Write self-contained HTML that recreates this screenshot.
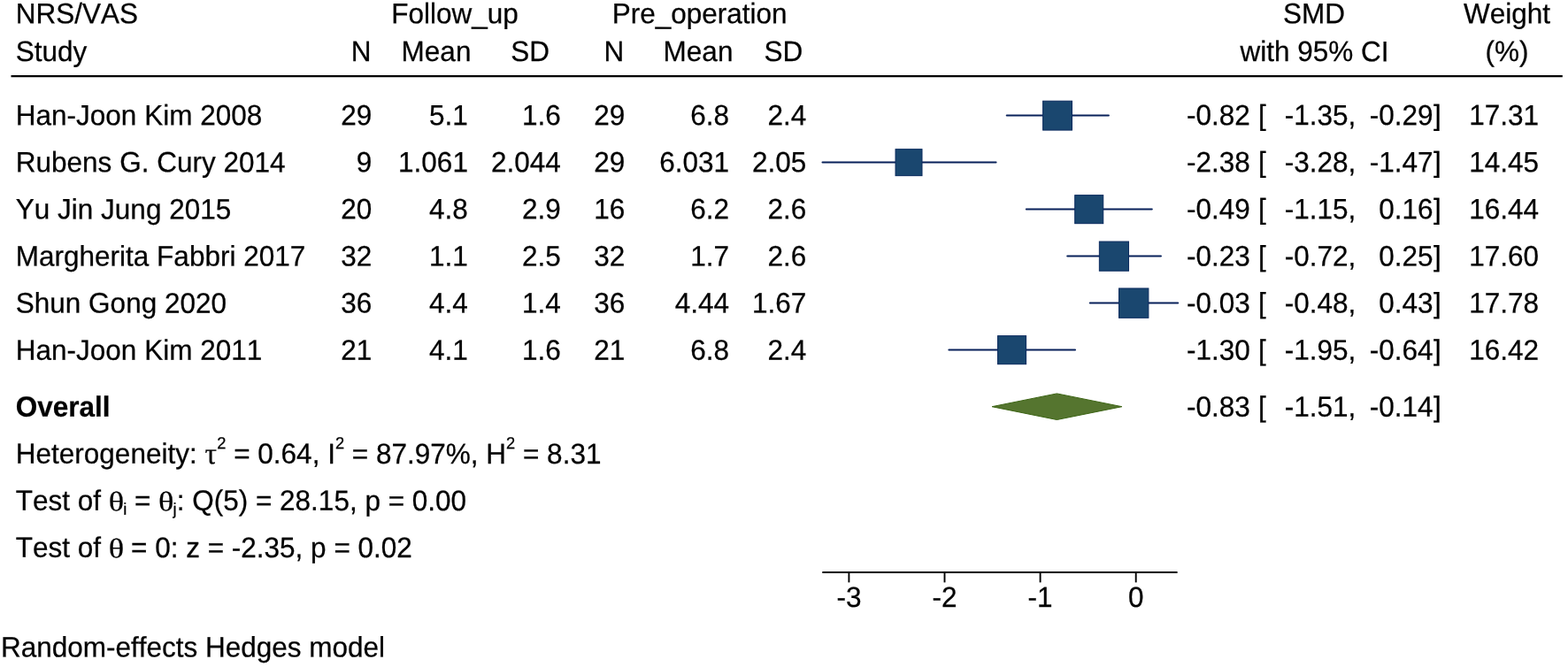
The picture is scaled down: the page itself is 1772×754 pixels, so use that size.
<!DOCTYPE html>
<html lang="en">
<head>
<meta charset="utf-8">
<title>NRS/VAS forest plot</title>
<style>
html,body{margin:0;padding:0;background:#fff;}
body{width:1772px;height:754px;overflow:hidden;}
svg{display:block;}
svg text{font-family:"Liberation Sans", sans-serif;font-size:31.5px;fill:#000;stroke:#000;stroke-width:0.25px;white-space:pre;font-kerning:none;text-rendering:geometricPrecision;}
</style>
</head>
<body>
<svg width="1772" height="754" viewBox="0 0 1772 754">
<rect x="0" y="0" width="1772" height="754" fill="#ffffff"/>
<text transform="matrix(1 0.0005 0 1.025 17.8 26.2)">NRS/VAS</text>
<text transform="matrix(1 0.0005 0 1.025 17.8 69.1)">Study</text>
<text transform="matrix(1 0.0005 0 1.025 514 26.2)" text-anchor="middle">Follow_up</text>
<text transform="matrix(1 0.0005 0 1.025 790.6 26.2)" text-anchor="middle">Pre_operation</text>
<text transform="matrix(1 0.0005 0 1.025 408 69.1)" text-anchor="middle">N</text>
<text transform="matrix(1 0.0005 0 1.025 493 69.1)" text-anchor="middle">Mean</text>
<text transform="matrix(1 0.0005 0 1.025 599 69.1)" text-anchor="middle">SD</text>
<text transform="matrix(1 0.0005 0 1.025 693.8 69.1)" text-anchor="middle">N</text>
<text transform="matrix(1 0.0005 0 1.025 789 69.1)" text-anchor="middle">Mean</text>
<text transform="matrix(1 0.0005 0 1.025 885.4 69.1)" text-anchor="middle">SD</text>
<text transform="matrix(1 0.0005 0 1.025 1485 26.2)" text-anchor="middle">SMD</text>
<text transform="matrix(1 0.0005 0 1.025 1485.5 69.1)" text-anchor="middle">with 95% CI</text>
<text transform="matrix(1 0.0005 0 1.025 1703 26.2)" text-anchor="middle">Weight</text>
<text transform="matrix(1 0.0005 0 1.025 1703 69.1)" text-anchor="middle">(%)</text>
<line x1="12.5" y1="86.1" x2="1765.8" y2="86.1" stroke="#000" stroke-width="2.4"/>
<text transform="matrix(1 0.0005 0 1.025 17.8 141.15)">Han-Joon Kim 2008</text>
<text transform="matrix(1 0.0005 0 1.025 420.2 141.15)" text-anchor="end">29</text>
<text transform="matrix(1 0.0005 0 1.025 528.9 141.15)" text-anchor="end">5.1</text>
<text transform="matrix(1 0.0005 0 1.025 633.8 141.15)" text-anchor="end">1.6</text>
<text transform="matrix(1 0.0005 0 1.025 706.2 141.15)" text-anchor="end">29</text>
<text transform="matrix(1 0.0005 0 1.025 824 141.15)" text-anchor="end">6.8</text>
<text transform="matrix(1 0.0005 0 1.025 911.3 141.15)" text-anchor="end">2.4</text>
<line x1="1137.77" y1="130.55" x2="1252.85" y2="130.55" stroke="#08215a" stroke-width="2.1" stroke-linecap="round"/>
<rect x="1178.61" y="114.20" width="32.90" height="32.90" fill="#1a476f" stroke="#0a2a5e" stroke-width="1"/>
<text transform="matrix(1 0.0005 0 1.025 1412.7 141.15)" text-anchor="end">-0.82</text>
<text transform="matrix(1 0.0005 0 1.025 1421.9 141.15)">[</text>
<text transform="matrix(1 0.0005 0 1.025 1532.3 141.15)" text-anchor="end">-1.35,</text>
<text transform="matrix(1 0.0005 0 1.025 1619.5 141.15)" text-anchor="end">-0.29</text>
<text transform="matrix(1 0.0005 0 1.025 1620 141.15)">]</text>
<text transform="matrix(1 0.0005 0 1.025 1739 141.15)" text-anchor="end">17.31</text>
<text transform="matrix(1 0.0005 0 1.025 17.8 194.25)">Rubens G. Cury 2014</text>
<text transform="matrix(1 0.0005 0 1.025 420.2 194.25)" text-anchor="end">9</text>
<text transform="matrix(1 0.0005 0 1.025 528.9 194.25)" text-anchor="end">1.061</text>
<text transform="matrix(1 0.0005 0 1.025 633.8 194.25)" text-anchor="end">2.044</text>
<text transform="matrix(1 0.0005 0 1.025 706.2 194.25)" text-anchor="end">29</text>
<text transform="matrix(1 0.0005 0 1.025 824 194.25)" text-anchor="end">6.031</text>
<text transform="matrix(1 0.0005 0 1.025 911.3 194.25)" text-anchor="end">2.05</text>
<line x1="929.53" y1="183.55" x2="1125.54" y2="183.55" stroke="#08215a" stroke-width="2.1" stroke-linecap="round"/>
<rect x="1012.03" y="168.66" width="29.97" height="29.97" fill="#1a476f" stroke="#0a2a5e" stroke-width="1"/>
<text transform="matrix(1 0.0005 0 1.025 1412.7 194.25)" text-anchor="end">-2.38</text>
<text transform="matrix(1 0.0005 0 1.025 1421.9 194.25)">[</text>
<text transform="matrix(1 0.0005 0 1.025 1532.3 194.25)" text-anchor="end">-3.28,</text>
<text transform="matrix(1 0.0005 0 1.025 1619.5 194.25)" text-anchor="end">-1.47</text>
<text transform="matrix(1 0.0005 0 1.025 1620 194.25)">]</text>
<text transform="matrix(1 0.0005 0 1.025 1739 194.25)" text-anchor="end">14.45</text>
<text transform="matrix(1 0.0005 0 1.025 17.8 247.35000000000002)">Yu Jin Jung 2015</text>
<text transform="matrix(1 0.0005 0 1.025 420.2 247.35000000000002)" text-anchor="end">20</text>
<text transform="matrix(1 0.0005 0 1.025 528.9 247.35000000000002)" text-anchor="end">4.8</text>
<text transform="matrix(1 0.0005 0 1.025 633.8 247.35000000000002)" text-anchor="end">2.9</text>
<text transform="matrix(1 0.0005 0 1.025 706.2 247.35000000000002)" text-anchor="end">16</text>
<text transform="matrix(1 0.0005 0 1.025 824 247.35000000000002)" text-anchor="end">6.2</text>
<text transform="matrix(1 0.0005 0 1.025 911.3 247.35000000000002)" text-anchor="end">2.6</text>
<line x1="1159.88" y1="236.55" x2="1301.75" y2="236.55" stroke="#08215a" stroke-width="2.1" stroke-linecap="round"/>
<rect x="1214.71" y="220.63" width="32.04" height="32.04" fill="#1a476f" stroke="#0a2a5e" stroke-width="1"/>
<text transform="matrix(1 0.0005 0 1.025 1412.7 247.35000000000002)" text-anchor="end">-0.49</text>
<text transform="matrix(1 0.0005 0 1.025 1421.9 247.35000000000002)">[</text>
<text transform="matrix(1 0.0005 0 1.025 1532.3 247.35000000000002)" text-anchor="end">-1.15,</text>
<text transform="matrix(1 0.0005 0 1.025 1619.5 247.35000000000002)" text-anchor="end">0.16</text>
<text transform="matrix(1 0.0005 0 1.025 1620 247.35000000000002)">]</text>
<text transform="matrix(1 0.0005 0 1.025 1739 247.35000000000002)" text-anchor="end">16.44</text>
<text transform="matrix(1 0.0005 0 1.025 17.8 300.45000000000005)">Margherita Fabbri 2017</text>
<text transform="matrix(1 0.0005 0 1.025 420.2 300.45000000000005)" text-anchor="end">32</text>
<text transform="matrix(1 0.0005 0 1.025 528.9 300.45000000000005)" text-anchor="end">1.1</text>
<text transform="matrix(1 0.0005 0 1.025 633.8 300.45000000000005)" text-anchor="end">2.5</text>
<text transform="matrix(1 0.0005 0 1.025 706.2 300.45000000000005)" text-anchor="end">32</text>
<text transform="matrix(1 0.0005 0 1.025 824 300.45000000000005)" text-anchor="end">1.7</text>
<text transform="matrix(1 0.0005 0 1.025 911.3 300.45000000000005)" text-anchor="end">2.6</text>
<line x1="1206.27" y1="289.55" x2="1311.93" y2="289.55" stroke="#08215a" stroke-width="2.1" stroke-linecap="round"/>
<rect x="1242.35" y="273.06" width="33.18" height="33.18" fill="#1a476f" stroke="#0a2a5e" stroke-width="1"/>
<text transform="matrix(1 0.0005 0 1.025 1412.7 300.45000000000005)" text-anchor="end">-0.23</text>
<text transform="matrix(1 0.0005 0 1.025 1421.9 300.45000000000005)">[</text>
<text transform="matrix(1 0.0005 0 1.025 1532.3 300.45000000000005)" text-anchor="end">-0.72,</text>
<text transform="matrix(1 0.0005 0 1.025 1619.5 300.45000000000005)" text-anchor="end">0.25</text>
<text transform="matrix(1 0.0005 0 1.025 1620 300.45000000000005)">]</text>
<text transform="matrix(1 0.0005 0 1.025 1739 300.45000000000005)" text-anchor="end">17.60</text>
<text transform="matrix(1 0.0005 0 1.025 17.8 353.55)">Shun Gong 2020</text>
<text transform="matrix(1 0.0005 0 1.025 420.2 353.55)" text-anchor="end">36</text>
<text transform="matrix(1 0.0005 0 1.025 528.9 353.55)" text-anchor="end">4.4</text>
<text transform="matrix(1 0.0005 0 1.025 633.8 353.55)" text-anchor="end">1.4</text>
<text transform="matrix(1 0.0005 0 1.025 706.2 353.55)" text-anchor="end">36</text>
<text transform="matrix(1 0.0005 0 1.025 824 353.55)" text-anchor="end">4.44</text>
<text transform="matrix(1 0.0005 0 1.025 911.3 353.55)" text-anchor="end">1.67</text>
<line x1="1231.81" y1="342.55" x2="1331.18" y2="342.55" stroke="#08215a" stroke-width="2.1" stroke-linecap="round"/>
<rect x="1264.53" y="325.97" width="33.36" height="33.36" fill="#1a476f" stroke="#0a2a5e" stroke-width="1"/>
<text transform="matrix(1 0.0005 0 1.025 1412.7 353.55)" text-anchor="end">-0.03</text>
<text transform="matrix(1 0.0005 0 1.025 1421.9 353.55)">[</text>
<text transform="matrix(1 0.0005 0 1.025 1532.3 353.55)" text-anchor="end">-0.48,</text>
<text transform="matrix(1 0.0005 0 1.025 1619.5 353.55)" text-anchor="end">0.43</text>
<text transform="matrix(1 0.0005 0 1.025 1620 353.55)">]</text>
<text transform="matrix(1 0.0005 0 1.025 1739 353.55)" text-anchor="end">17.78</text>
<text transform="matrix(1 0.0005 0 1.025 17.8 406.65)">Han-Joon Kim 2011</text>
<text transform="matrix(1 0.0005 0 1.025 420.2 406.65)" text-anchor="end">21</text>
<text transform="matrix(1 0.0005 0 1.025 528.9 406.65)" text-anchor="end">4.1</text>
<text transform="matrix(1 0.0005 0 1.025 633.8 406.65)" text-anchor="end">1.6</text>
<text transform="matrix(1 0.0005 0 1.025 706.2 406.65)" text-anchor="end">21</text>
<text transform="matrix(1 0.0005 0 1.025 824 406.65)" text-anchor="end">6.8</text>
<text transform="matrix(1 0.0005 0 1.025 911.3 406.65)" text-anchor="end">2.4</text>
<line x1="1072.40" y1="395.55" x2="1215.02" y2="395.55" stroke="#08215a" stroke-width="2.1" stroke-linecap="round"/>
<rect x="1127.56" y="379.64" width="32.02" height="32.02" fill="#1a476f" stroke="#0a2a5e" stroke-width="1"/>
<text transform="matrix(1 0.0005 0 1.025 1412.7 406.65)" text-anchor="end">-1.30</text>
<text transform="matrix(1 0.0005 0 1.025 1421.9 406.65)">[</text>
<text transform="matrix(1 0.0005 0 1.025 1532.3 406.65)" text-anchor="end">-1.95,</text>
<text transform="matrix(1 0.0005 0 1.025 1619.5 406.65)" text-anchor="end">-0.64</text>
<text transform="matrix(1 0.0005 0 1.025 1620 406.65)">]</text>
<text transform="matrix(1 0.0005 0 1.025 1739 406.65)" text-anchor="end">16.42</text>
<text transform="matrix(1 0.0005 0 1.025 17.8 470.7)" font-weight="bold">Overall</text>
<polygon points="1121.07,459.70 1194.38,444.90 1267.87,459.70 1194.38,474.50" fill="#55752f" stroke="#3c6414" stroke-width="1" stroke-linejoin="round"/>
<text transform="matrix(1 0.0005 0 1.025 1412.7 470.7)" text-anchor="end">-0.83</text>
<text transform="matrix(1 0.0005 0 1.025 1421.9 470.7)">[</text>
<text transform="matrix(1 0.0005 0 1.025 1532.3 470.7)" text-anchor="end">-1.51,</text>
<text transform="matrix(1 0.0005 0 1.025 1619.5 470.7)" text-anchor="end">-0.14</text>
<text transform="matrix(1 0.0005 0 1.025 1620 470.7)">]</text>
<text transform="matrix(1 0.0005 0 1.025 17.8 523.7)"><tspan x="0.0" y="0">Heterogeneity: </tspan><tspan x="213.82" y="0.5" font-family='"Liberation Serif", "DejaVu Serif", serif' font-size="33.6" stroke-width="0.2">τ</tspan><tspan x="227.45" y="-16.29" font-size="18.3">2</tspan><tspan x="237.63" y="0"> = 0.64, I</tspan><tspan x="361.09" y="-16.29" font-size="18.3">2</tspan><tspan x="371.27" y="0"> = 87.97%, H</tspan><tspan x="554.26" y="-16.29" font-size="18.3">2</tspan><tspan x="564.43" y="0"> = 8.31</tspan></text>
<text transform="matrix(1 0.0005 0 1.025 17.8 576.7)"><tspan x="0.0" y="0">Test of </tspan><tspan x="104.84" y="0.7" font-family='"Liberation Serif", "DejaVu Serif", serif' font-size="30.6" stroke-width="0.2" textLength="17.4" lengthAdjust="spacingAndGlyphs">θ</tspan><tspan x="121.45" y="4.88" font-size="18.3">i</tspan><tspan x="125.51" y="0"> = </tspan><tspan x="161.21" y="0.7" font-family='"Liberation Serif", "DejaVu Serif", serif' font-size="30.6" stroke-width="0.2" textLength="17.4" lengthAdjust="spacingAndGlyphs">θ</tspan><tspan x="177.82" y="4.88" font-size="18.3">j</tspan><tspan x="181.89" y="0">: Q(5) = 28.15, p = 0.00</tspan></text>
<text transform="matrix(1 0.0005 0 1.025 17.8 629.8)"><tspan x="0.0" y="0">Test of </tspan><tspan x="104.84" y="0.7" font-family='"Liberation Serif", "DejaVu Serif", serif' font-size="30.6" stroke-width="0.2" textLength="17.4" lengthAdjust="spacingAndGlyphs">θ</tspan><tspan x="121.45" y="0"> = 0: z = -2.35, p = 0.02</tspan></text>
<text transform="matrix(1 0.0005 0 1.025 0.9 742.4)">Random-effects Hedges model</text>
<line x1="929.3" y1="647.0" x2="1330.6" y2="647.0" stroke="#000" stroke-width="1.9"/>
<line x1="959.4" y1="647.0" x2="959.4" y2="658.4" stroke="#000" stroke-width="1.9"/>
<text transform="matrix(1 0.0005 0 1.025 959.4 686.1)" text-anchor="middle">-3</text>
<line x1="1067.5" y1="647.0" x2="1067.5" y2="658.4" stroke="#000" stroke-width="1.9"/>
<text transform="matrix(1 0.0005 0 1.025 1067.5 686.1)" text-anchor="middle">-2</text>
<line x1="1175.6" y1="647.0" x2="1175.6" y2="658.4" stroke="#000" stroke-width="1.9"/>
<text transform="matrix(1 0.0005 0 1.025 1175.6 686.1)" text-anchor="middle">-1</text>
<line x1="1283.7" y1="647.0" x2="1283.7" y2="658.4" stroke="#000" stroke-width="1.9"/>
<text transform="matrix(1 0.0005 0 1.025 1283.7 686.1)" text-anchor="middle">0</text>
</svg>
</body>
</html>
